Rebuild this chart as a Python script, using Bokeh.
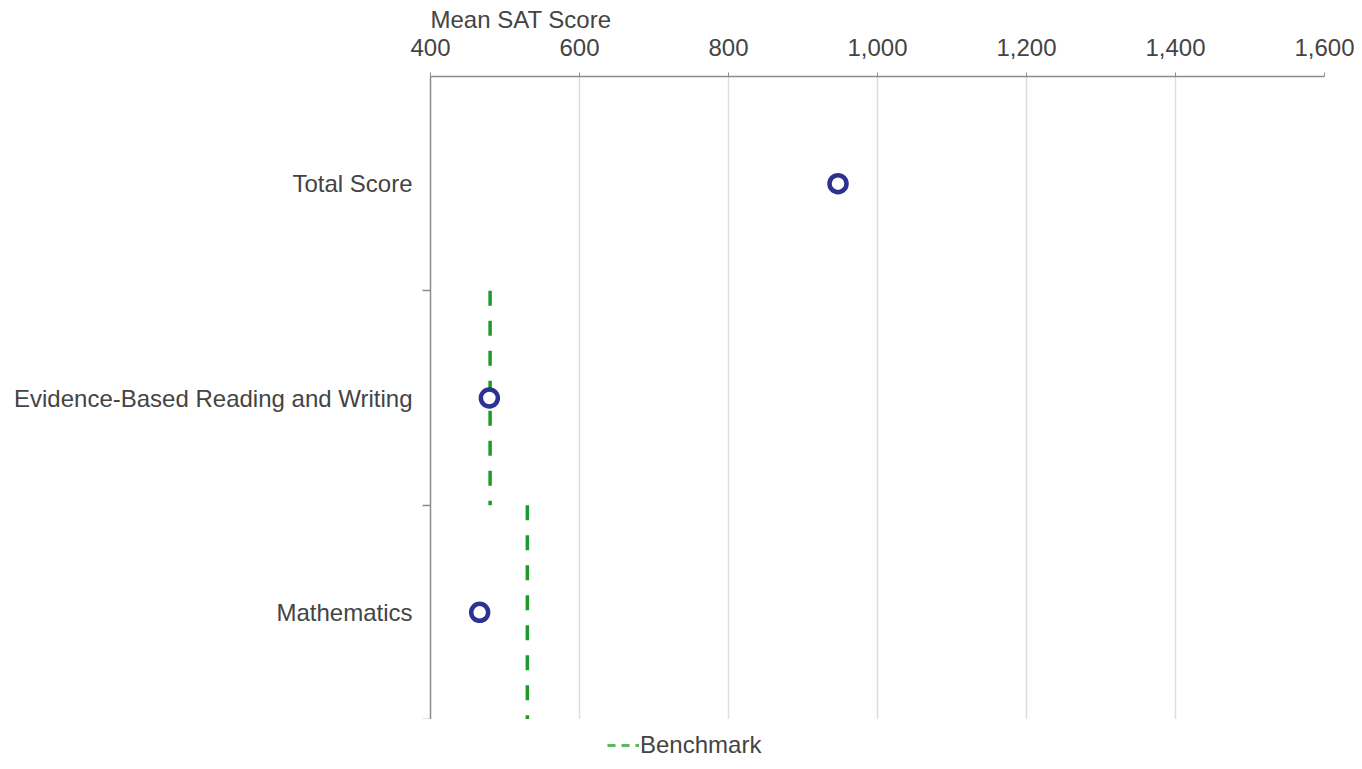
from bokeh.plotting import figure
from bokeh.models import Range1d, FixedTicker, NumeralTickFormatter, Legend, LegendItem, ColumnDataSource
from bokeh.layouts import column
from bokeh.embed import file_html
from bokeh.resources import INLINE

categories = ["Total Score", "Evidence-Based Reading and Writing", "Mathematics"]
mean_scores = [947, 479, 466]
benchmarks = [None, 480, 530]
x_ticks = [400, 600, 800, 1000, 1200, 1400, 1600]

FONT = "Liberation Sans"
TXT = "#444444"
FS = "24px"
GREEN = "#1f9a2a"

p = figure(frame_width=894, frame_height=643, output_backend="svg", toolbar_location=None,
           x_range=Range1d(400, 1600), y_range=Range1d(len(categories), 0),
           x_axis_location="above", min_border_left=0, min_border_right=36,
           min_border_top=0, min_border_bottom=0)
p.outline_line_color = None

p.title.text = "Mean SAT Score"
p.title.text_font = FONT
p.title.text_font_size = FS
p.title.text_font_style = "normal"
p.title.text_color = TXT
p.title.align = "left"
p.title.standoff = 6

xa = p.xaxis[0]
xa.ticker = FixedTicker(ticks=x_ticks)
xa.formatter = NumeralTickFormatter(format="0,0")
xa.major_label_text_font = FONT
xa.major_label_text_font_size = FS
xa.major_label_text_color = TXT
xa.major_tick_out = 4
xa.major_tick_in = 0
xa.minor_tick_line_color = None
xa.major_label_standoff = 17
xa.axis_line_color = "#8c8c8c"
xa.major_tick_line_color = "#8c8c8c"
xa.axis_line_width = 1.5

ya = p.yaxis[0]
centers = [i + 0.5 for i in range(len(categories))]
ya.ticker = FixedTicker(ticks=centers, minor_ticks=[i + 1 for i in range(len(categories))])
ya.major_label_overrides = {c: n for c, n in zip(centers, categories)}
ya.major_label_text_font = FONT
ya.major_label_text_font_size = FS
ya.major_label_text_color = TXT
ya.major_tick_line_color = None
ya.major_tick_out = 0
ya.major_tick_in = 0
ya.major_label_standoff = 10
ya.axis_label = " "
ya.axis_label_text_font_size = "3px"
ya.axis_label_standoff = 4
ya.minor_tick_out = 8
ya.minor_tick_in = 0
ya.minor_tick_line_color = "#8c8c8c"
ya.minor_tick_line_width = 1.5
ya.axis_line_color = "#8c8c8c"
ya.axis_line_width = 1.5

p.xgrid.ticker = FixedTicker(ticks=x_ticks)
p.xgrid.grid_line_color = "#dddddd"
p.xgrid.grid_line_width = 1.5
p.ygrid.grid_line_color = None

bx, by0, by1 = [], [], []
for i, b in enumerate(benchmarks):
    if b is not None:
        bx.append(b)
        by0.append(i)
        by1.append(i + 1)
bsrc = ColumnDataSource(dict(x=bx, y0=by0, y1=by1))
p.segment(x0="x", x1="x", y0="y0", y1="y1", source=bsrc,
          line_color=GREEN, line_width=3.5, line_dash="15 15")

psrc = ColumnDataSource(dict(x=mean_scores, y=centers))
p.scatter(x="x", y="y", source=psrc, marker="circle", size=17,
          fill_color="white", line_color="#2e3192", line_width=4.5)

# legend strip below the chart (its glyph renderer lies outside this strip's ranges)
q = figure(width=1350, height=40, output_backend="svg", toolbar_location=None,
           x_range=Range1d(0, 1), y_range=Range1d(0, 1), min_border=0)
q.axis.visible = False
q.grid.visible = False
q.outline_line_color = None
legend_glyph = q.segment(x0="x", x1="x", y0="y0", y1="y1", source=bsrc,
                         line_color="#5cb85c", line_width=3, line_dash="8 6")
legend = Legend(items=[LegendItem(label="Benchmark", renderers=[legend_glyph])],
                orientation="horizontal", location=(177, 0),
                label_text_font=FONT, label_text_font_size=FS,
                label_text_color=TXT, border_line_color=None,
                background_fill_alpha=0, glyph_width=32, label_standoff=1,
                padding=0, margin=0, label_height=26, glyph_height=26)
q.add_layout(legend, "center")

layout = column(p, q, spacing=0)
open("out.html", "w").write(file_html(layout, INLINE))
